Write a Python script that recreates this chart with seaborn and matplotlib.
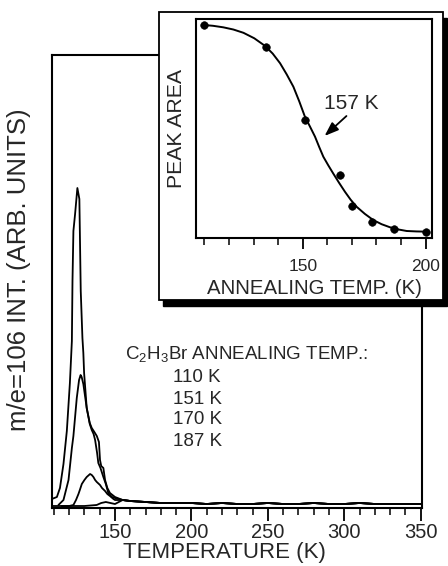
import numpy as np
import pandas as pd
import matplotlib
matplotlib.use("Agg")
import matplotlib.pyplot as plt
from matplotlib.patches import Rectangle
import seaborn as sns

sns.set_theme(style="white")
plt.rcParams['font.family'] = ['Liberation Sans', 'DejaVu Sans']
plt.rcParams['mathtext.fontset'] = 'custom'
plt.rcParams['mathtext.rm'] = 'Liberation Sans'
plt.rcParams['mathtext.default'] = 'regular'

# ---------------- data ----------------
tail_T = [155, 160, 170, 180, 190, 200, 210, 220, 230, 240, 250, 260, 270, 280,
          290, 300, 310, 320, 330, 340, 350]
tail_I = [8, 7, 6, 5, 5, 5, 4, 5, 4, 4, 5, 4, 4, 5, 4, 4, 5, 4, 4, 4, 4]

t110_T = [108.7, 112, 114, 116.3, 118.5, 120.5, 121.8, 122.2, 122.8, 123.9, 125.4,
          126.7, 127.6, 128.7, 129.3, 129.8, 131.5, 133.5, 134.8, 136.5, 138.1,
          139.5, 140.2, 141.0, 142.4, 143.5, 145.0, 146.7, 150.0]
t110_I = [9, 11, 20, 44, 77, 125, 167, 227, 277, 294, 320,
          309, 217, 170, 155, 135, 100, 85, 80, 76, 72,
          66, 48, 42, 40, 28, 20, 15, 11]

t151_T = [113, 116.3, 119.6, 121.8, 122.8, 125.0, 126.5, 127.5, 128.2, 129.3, 131.5,
          133.5, 134.8, 136.0, 137.0, 138.3, 139.1, 140.5, 142.4, 144.0, 145.6,
          148.0, 150.0]
t151_I = [3, 8, 28, 60, 72, 110, 128, 133, 131, 124, 100,
          84, 78, 74, 68, 55, 45, 40, 31, 24, 15,
          11, 10]

t170_T = [115, 120, 122.8, 124.5, 126.1, 127.0, 128.3, 130.0, 131.5, 133.7, 134.8,
          135.9, 137.0, 138.1, 140.2, 141.5, 143.5, 145.0, 146.7, 149.0, 150.0]
t170_I = [2, 2, 3, 8, 14, 18, 24, 28, 31, 34, 33,
          31, 28, 26, 23, 20, 17, 14, 12, 9, 8]

t187_T = [109, 120, 130, 138, 141, 144, 147, 150]
t187_I = [2, 2, 2, 3, 5, 6, 5, 4]

legend_labels = ["110 K", "151 K", "170 K", "187 K"]

pts_T = [110, 135, 151, 165, 170, 178, 187, 200]
pts_A = [0.973, 0.874, 0.539, 0.288, 0.146, 0.072, 0.040, 0.029]

fit_T = [109.3, 113.5, 117.7, 121.8, 125.9, 130.3, 134.7, 137.8, 140.8, 143.5, 146.2,
         148.6, 150.9, 153.0, 155.0, 156.7, 158.4, 160.4, 162.4, 164.8, 167.2,
         169.5, 171.9, 175.3, 178.7, 182.1, 185.5, 188.9, 192.3, 196.3, 200.4]
fit_A = [0.973, 0.969, 0.962, 0.952, 0.937, 0.912, 0.877, 0.842, 0.798, 0.747, 0.691,
         0.624, 0.554, 0.508, 0.463, 0.416, 0.371, 0.332, 0.295, 0.252, 0.211,
         0.175, 0.143, 0.110, 0.082, 0.063, 0.049, 0.039, 0.032, 0.030, 0.029]

# ---------------- build tables ----------------
rows = []
for name, T, I in [("110 K", t110_T, t110_I), ("151 K", t151_T, t151_I),
                   ("170 K", t170_T, t170_I), ("187 K", t187_T, t187_I)]:
    for t, i in zip(list(T) + tail_T, list(I) + tail_I):
        rows.append({"trace": name, "T": t, "I": i})
tpd = pd.DataFrame(rows)
pts = pd.DataFrame({"T": pts_T, "A": pts_A})
fit = pd.DataFrame({"T": fit_T, "A": fit_A})

W, H = 448, 566
fig = plt.figure(figsize=(W / 100, H / 100), dpi=100)

def fx(px):
    return px / W

def fy(py):
    return 1 - py / H

# ---------------- main axes ----------------
ax = fig.add_axes([fx(52), fy(508), fx(422) - fx(52), fy(55) - fy(508)])
ax.set_zorder(0)
sns.lineplot(data=tpd, x="T", y="I", units="trace", estimator=None, color="black",
             lw=1.3, sort=False, ax=ax, legend=False)
ax.set_xlim(108.8, 350.8)
ax.set_ylim(0, 453)
ax.set_yticks([])
ax.set_xticks([150, 200, 250, 300, 350])
ax.set_xticks(np.arange(110, 351, 10), minor=True)
ax.tick_params(axis="x", which="major", direction="out", length=9, width=1.3,
               labelsize=14.5, pad=2, bottom=True, color="black")
ax.tick_params(axis="x", which="minor", direction="out", length=5, width=1.1,
               bottom=True, color="black")
for s in ax.spines.values():
    s.set_color("black")
    s.set_linewidth(1.5)
ax.set_xlabel("TEMPERATURE (K)", fontsize=16)
ax.xaxis.set_label_coords((224 - 52) / 370, -(542 - 508) / 453)
ax.set_ylabel("m/e=106 INT. (ARB. UNITS)", fontsize=18.5)
ax.yaxis.set_label_coords((31 - 52) / 370, (508 - 270) / 453)

fig.text(fx(125), fy(354), "C$_2$H$_3$Br ANNEALING TEMP.:", fontsize=13.5,
         ha="left", va="center")
for k, lab in enumerate(legend_labels):
    fig.text(fx(173), fy(378 + 21 * k), lab, fontsize=13.5, ha="left", va="center")

# ---------------- inset frame with shadow ----------------
bx0, by0, bx1, by1 = 159, 12, 443, 300
shadow = Rectangle((fx(bx0 + 4), fy(by1 + 6)), fx(bx1) - fx(bx0), fy(by0) - fy(by1),
                   transform=fig.transFigure, facecolor="black", edgecolor="black",
                   zorder=1)
box = Rectangle((fx(bx0), fy(by1)), fx(bx1) - fx(bx0), fy(by0) - fy(by1),
                transform=fig.transFigure, facecolor="white", edgecolor="black",
                lw=1.3, zorder=2)
fig.add_artist(shadow)
fig.add_artist(box)

# ---------------- inset axes ----------------
ia = fig.add_axes([fx(196), fy(238), fx(432) - fx(196), fy(19) - fy(238)])
ia.set_zorder(3)
sns.lineplot(data=fit, x="T", y="A", color="black", lw=1.4, ax=ia, sort=False)
sns.scatterplot(data=pts, x="T", y="A", color="black", s=30, edgecolor="black",
                ax=ia, zorder=5)
ia.set_xlim(106.6, 202.6)
ia.set_ylim(0, 1)
ia.set_yticks([])
ia.set_xticks([150, 200])
ia.set_xticks(np.arange(110, 201, 10), minor=True)
ia.tick_params(axis="x", which="major", direction="out", length=8, width=1.3,
               labelsize=12.5, pad=7, bottom=True, color="black")
ia.tick_params(axis="x", which="minor", direction="out", length=5, width=1.1,
               bottom=True, color="black")
for s in ia.spines.values():
    s.set_color("black")
    s.set_linewidth(1.5)
ia.set_xlabel("ANNEALING TEMP. (K)", fontsize=14.7)
ia.xaxis.set_label_coords((314 - 196) / 236, -(279 - 238) / 219)
ia.set_ylabel("PEAK AREA", fontsize=15.3)
ia.yaxis.set_label_coords(-(196 - 186) / 236, (238 - 129) / 219)
ia.text(169.9, 0.615, "157 K", fontsize=15, ha="center", va="center")
ia.annotate("", xy=(158.9, 0.466), xytext=(167.8, 0.557),
            arrowprops=dict(arrowstyle="-|>,head_length=0.6,head_width=0.22",
                            color="black", lw=1.3, shrinkA=0, shrinkB=0,
                            mutation_scale=14))

fig.savefig("out.png", dpi=100)
